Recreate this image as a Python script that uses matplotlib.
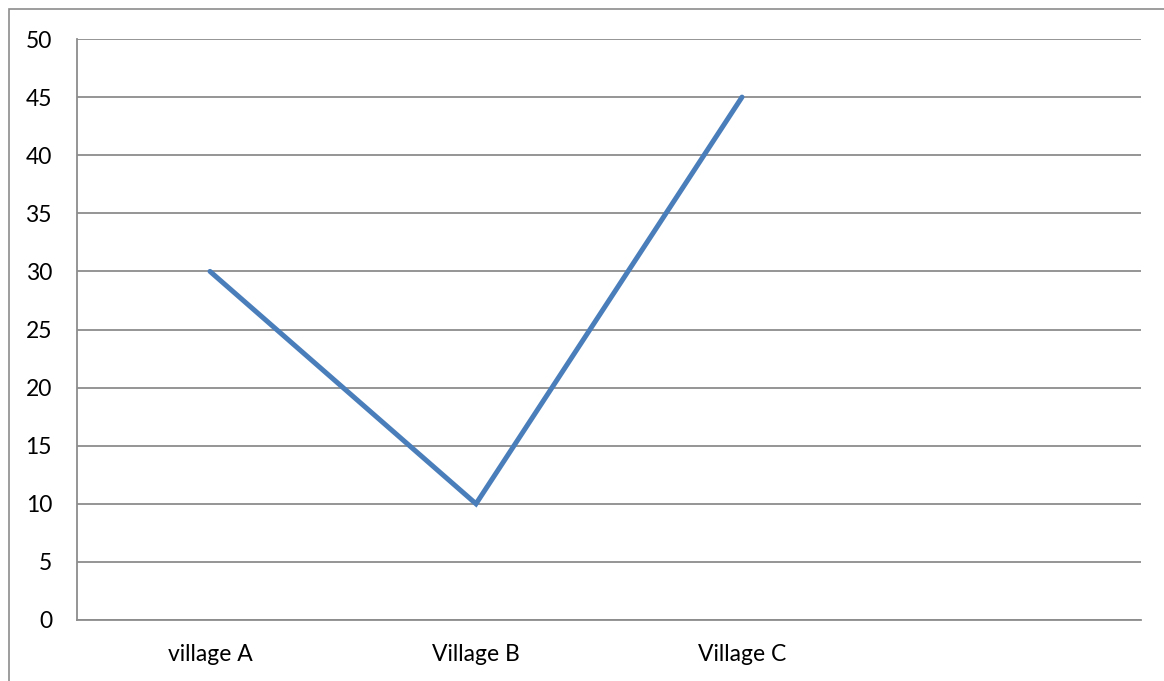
import matplotlib
matplotlib.use("Agg")
import matplotlib.pyplot as plt
from matplotlib.patches import Rectangle

categories = ["village A", "Village B", "Village C", ""]
values = [30, 10, 45, None]
y_ticks = [0, 5, 10, 15, 20, 25, 30, 35, 40, 45, 50]

W, H = 1164, 681
fig = plt.figure(figsize=(W / 100, H / 100), dpi=100)
plt.rcParams["font.family"] = ["Lato", "DejaVu Sans"]

# outer chart border (open on the right and bottom edges)
fig.patches.append(Rectangle((8.5 / W, -0.05), 1.1, 1 - 9.5 / H + 0.05,
                             transform=fig.transFigure, fill=False,
                             edgecolor="#8c8c8c", linewidth=1.2))

left, right, top, bottom = 77, 1141, 39, 620
ax = fig.add_axes([left / W, 1 - bottom / H, (right - left) / W, (bottom - top) / H])

xs = list(range(len(categories)))
pts = [(x, v) for x, v in zip(xs, values) if v is not None]
ax.plot([p[0] for p in pts], [p[1] for p in pts], color="#4a7ebb",
        linewidth=3.6, solid_capstyle="round", solid_joinstyle="miter", zorder=3)

ax.set_xlim(-0.5, len(categories) - 0.5)
ax.set_ylim(0, 50)
ax.set_yticks(y_ticks)
ax.set_yticklabels([str(t) for t in y_ticks], fontsize=16.5, color="black")
ax.set_xticks(xs)
ax.set_xticklabels(categories, fontsize=16.5, color="black")
ax.tick_params(axis="both", length=0)
ax.tick_params(axis="y", pad=18)
ax.tick_params(axis="x", pad=17)
ax.grid(axis="y", color="#8c8c8c", linewidth=1.3)
ax.set_axisbelow(True)
for s in ["top", "right"]:
    ax.spines[s].set_visible(False)
ax.spines["left"].set_color("#8c8c8c")
ax.spines["left"].set_linewidth(1.3)
ax.spines["bottom"].set_color("#8c8c8c")
ax.spines["bottom"].set_linewidth(1.3)

fig.savefig("out.png", dpi=100)
